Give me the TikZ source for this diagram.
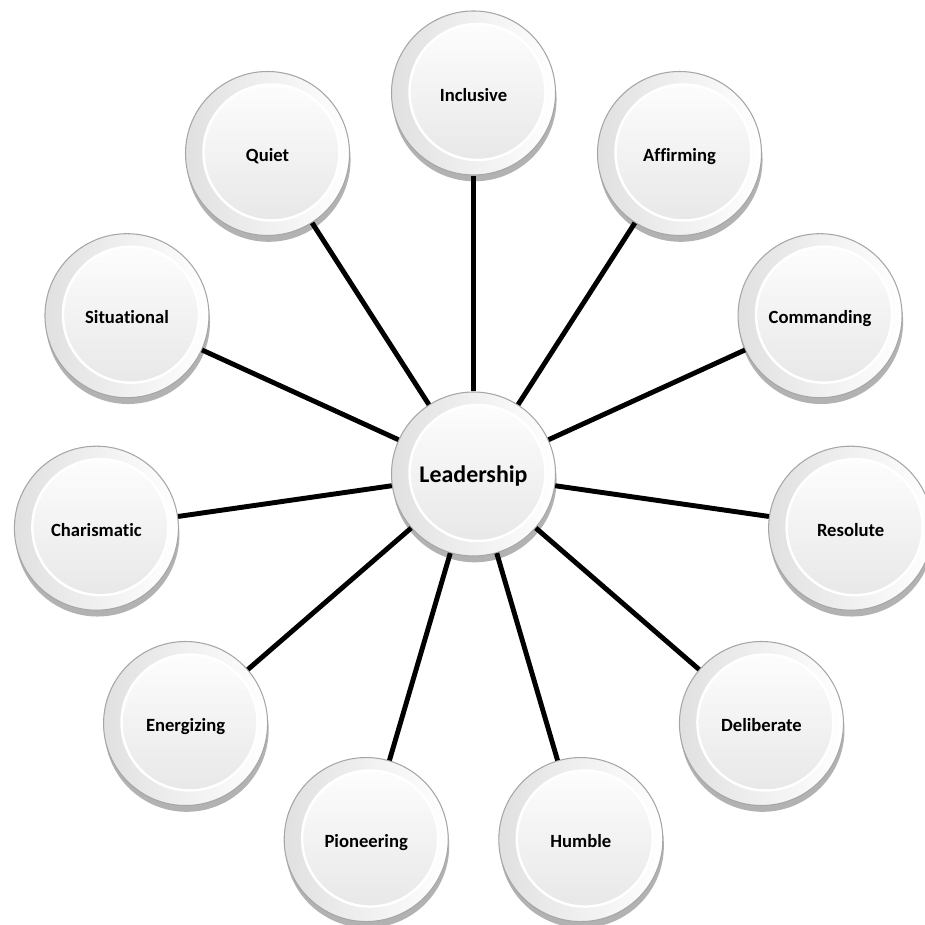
\documentclass[tikz,border=0pt]{standalone}
\usepackage{fontspec}
\setmainfont{Carlito}[Ligatures=NoCommon]
\usetikzlibrary{shadows}

\begin{document}
\begin{tikzpicture} [
  bubble/.style = {circle, draw=gray!70, line width=0.3pt, minimum size=1.64cm, inner sep=0pt,
    text height=0.66em, text depth=0.2em,
    left color=gray!24, right color=white,
    drop shadow={shadow xshift=0.3pt, shadow yshift=-1.8pt, opacity=0.3, fill=black},
    path picture={\shade[top color=white, bottom color=gray!20] (path picture bounding box.center) ++(0.04,0.01) circle (0.68cm);
                  \draw[white, line width=0.7pt] (path picture bounding box.center) ++(0.04,0.01) circle (0.68cm);},
    font=\fontsize{5.3}{6}\selectfont\bfseries},
  hub/.style = {bubble, font=\fontsize{6.8}{8}\selectfont\bfseries},
  spoke/.style = {line width=1.4pt}
]
\useasboundingbox (-4.735,-4.51) rectangle (4.505,4.74);

\node[hub] (lead) at (0,0) {Leadership};

\node[bubble] (inc) at (90:3.81) {Inclusive};
\node[bubble] (aff) at (57.27:3.81) {Affirming};
\node[bubble] (com) at (24.55:3.81) {Commanding};
\node[bubble] (res) at (-8.18:3.81) {Resolute};
\node[bubble] (del) at (-40.91:3.81) {Deliberate};
\node[bubble] (hum) at (-73.64:3.81) {Humble};
\node[bubble] (pio) at (-106.36:3.81) {Pioneering};
\node[bubble] (ene) at (-139.09:3.81) {Energizing};
\node[bubble] (cha) at (-171.82:3.81) {Charismatic};
\node[bubble] (sit) at (155.45:3.81) {Situational};
\node[bubble] (qui) at (122.73:3.81) {Quiet};

\draw[spoke] (lead) -- (inc);
\draw[spoke] (lead) -- (aff);
\draw[spoke] (lead) -- (com);
\draw[spoke] (lead) -- (res);
\draw[spoke] (lead) -- (del);
\draw[spoke] (lead) -- (hum);
\draw[spoke] (lead) -- (pio);
\draw[spoke] (lead) -- (ene);
\draw[spoke] (lead) -- (cha);
\draw[spoke] (lead) -- (sit);
\draw[spoke] (lead) -- (qui);
\end{tikzpicture}
\end{document}
